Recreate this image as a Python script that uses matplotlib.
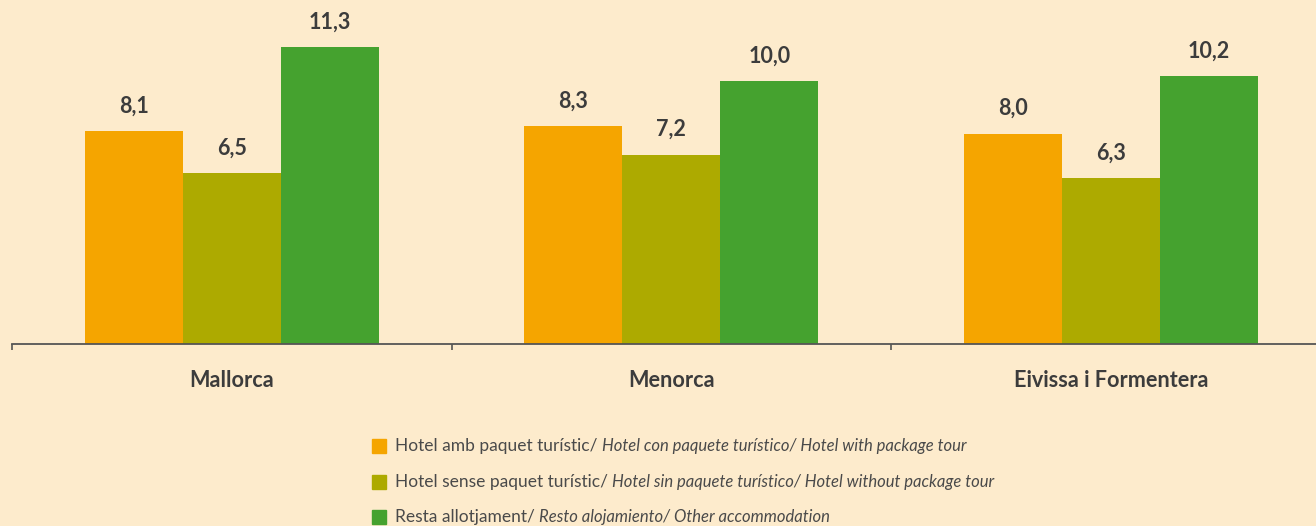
import matplotlib
matplotlib.use("Agg")
import matplotlib.pyplot as plt
from matplotlib.patches import Rectangle
import numpy as np

# data
regions = ["Mallorca", "Menorca", "Eivissa i Formentera"]
hotel_package = [8.1, 8.3, 8.0]
hotel_no_package = [6.5, 7.2, 6.3]
other_accommodation = [11.3, 10.0, 10.2]

series = [hotel_package, hotel_no_package, other_accommodation]
colors = ["#F5A500", "#ADAA00", "#45A22F"]
legend_upright = [
    "Hotel amb paquet turístic/ ",
    "Hotel sense paquet turístic/ ",
    "Resta allotjament/ ",
]
legend_italic = [
    "Hotel con paquete turístico/ Hotel with package tour",
    "Hotel sin paquete turístico/ Hotel without package tour",
    "Resto alojamiento/ Other accommodation",
]

BG = "#FDEBCC"
TXT = "#3C3C3C"
plt.rcParams["font.family"] = ["Lato", "DejaVu Sans"]

W, H = 1316, 526
fig = plt.figure(figsize=(W / 100, H / 100), dpi=100, facecolor=BG)
ax = fig.add_axes([12 / W, (H - 344) / H, 1 - 12 / W, 344 / H])
ax.set_facecolor(BG)

x = np.arange(len(regions))
bw = 0.223
for i, (vals, c) in enumerate(zip(series, colors)):
    pos = x + (i - 1) * bw
    bars = ax.bar(pos, vals, bw, color=c, edgecolor="none")
    for b, v in zip(bars, vals):
        ax.annotate(f"{v:.1f}".replace(".", ","),
                    (b.get_x() + b.get_width() / 2, v),
                    xytext=(0, 18), textcoords="offset points",
                    ha="center", va="center", fontsize=15.5,
                    fontweight="bold", color=TXT)

for s in ["top", "right", "left"]:
    ax.spines[s].set_visible(False)
ax.spines["bottom"].set_color("#555555")
ax.spines["bottom"].set_linewidth(1.3)
ax.set_yticks([])
ax.set_xticks(np.arange(len(regions) + 1) - 0.5)
ax.set_xticklabels([])
ax.tick_params(axis="x", direction="out", length=4, width=1.2, color="#555555")
ax.set_xlim(-0.5, -0.5 + (W - 12) / 439.5)
ax.set_ylim(0, 344 / 26.3)
for xi, name in zip(x, regions):
    ax.text(xi, -1.38, name, ha="center", va="center", fontsize=15.6,
            fontweight="bold", color=TXT)

# legend
row_y = [446, 482, 517]
fig.canvas.draw()
renderer = fig.canvas.get_renderer()
for c, up, it, yy in zip(colors, legend_upright, legend_italic, row_y):
    fy = 1 - yy / H
    fig.patches.append(Rectangle((372 / W, fy - 7 / H), 14 / W, 14 / H,
                                 transform=fig.transFigure, color=c))
    t1 = fig.text(395 / W, fy, up, ha="left", va="center", fontsize=12.5,
                  color="#4A4A4A")
    bb = t1.get_window_extent(renderer)
    fig.text(bb.x1 / W, fy, it, ha="left", va="center", fontsize=12,
             style="italic", color="#4A4A4A")

fig.savefig("out.png", dpi=100, facecolor=BG)
